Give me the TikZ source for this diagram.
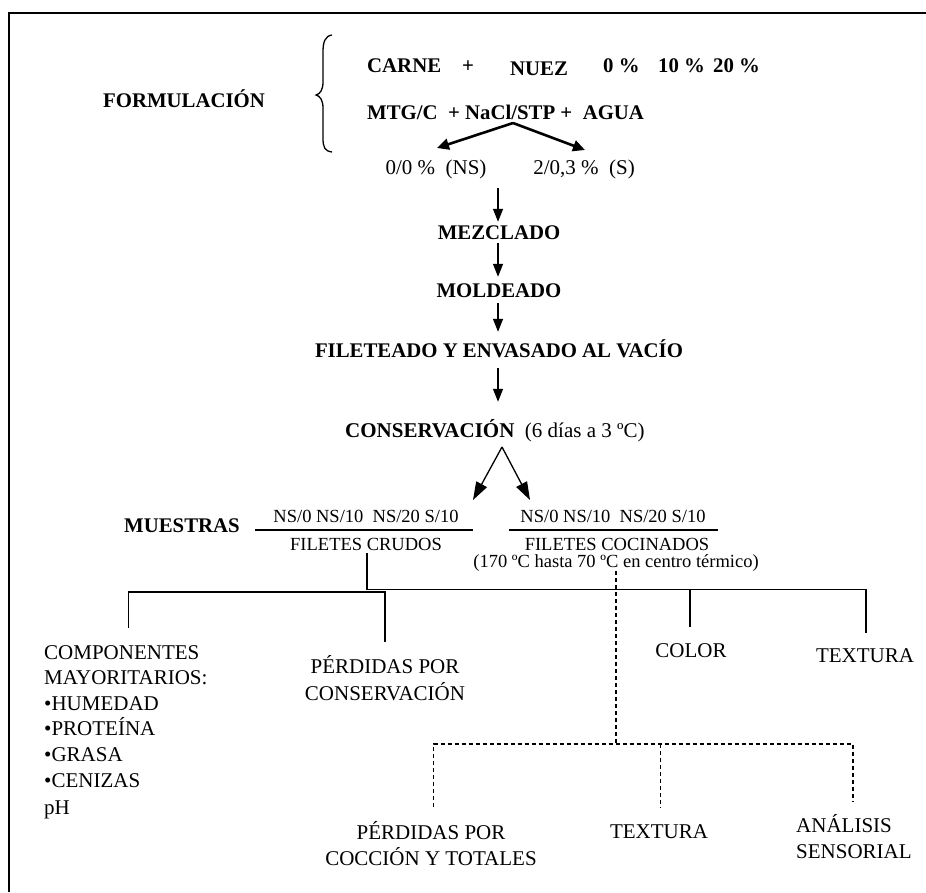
\documentclass[tikz,border=0pt]{standalone}
\usepackage{fontspec}
\setmainfont{Liberation Serif}
\usetikzlibrary{arrows.meta,calc}
\begin{document}
\begin{tikzpicture}[x=1pt,y=-1pt,
  lbl/.style={font=\fontsize{21}{25}\selectfont, inner sep=0pt, anchor=base, text height=14pt, text depth=4pt},
  blbl/.style={lbl, font=\fontsize{20.8}{25}\selectfont\bfseries},
  sml/.style={lbl, font=\fontsize{18.5}{22}\selectfont, text height=12.5pt, text depth=2pt},
  btl/.style={lbl, font=\fontsize{21}{25}\selectfont, text height=15pt, text depth=5pt},
  arr/.style={line width=1.3pt, -{Triangle[length=13pt,width=10pt]}},
  tarr/.style={line width=2.6pt, -{Triangle[length=12pt,width=11pt]}},
  carr/.style={line width=1.3pt, -{Triangle[length=18pt,width=12pt]}},
  ln/.style={line width=1.3pt},
  dln/.style={line width=1.2pt, dash pattern=on 4pt off 3pt},
  frameline/.style={line width=2pt}]
\useasboundingbox (0,0) rectangle (926,892);
\fill[white] (0,0) rectangle (926,892);
% frame
\coordinate (ftl) at (8.5,13);
\coordinate (ftr) at (926,13);
\coordinate (fbl) at (8.5,892);
\draw[frameline] (ftr) -- (ftl) -- (fbl);
% brace
\draw[ln] (332,35) .. controls (325,36) and (323,42) .. (323,52) -- (323,82)
  .. controls (323,90) and (320,94) .. (316,95)
  .. controls (320,96) and (323,100) .. (323,108) -- (323,138)
  .. controls (323,148) and (325,151) .. (332,152);
% formulation
\node[blbl] (form) at (184,107) {FORMULACIÓN};
\node[blbl, anchor=base west] (carne) at (367,72) {CARNE};
\node[blbl] (plus) at (468,72) {+};
\node[blbl, anchor=base west] (nuez) at (510,75) {NUEZ};
\node[blbl, anchor=base west] (p0) at (603,72) {0 \%};
\node[blbl, anchor=base west] (p10) at (658,72) {10 \%};
\node[blbl, anchor=base west] (p20) at (713,72) {20 \%};
\node[blbl, anchor=base west] (mtg) at (367,119) {MTG/C\ \ + NaCl/STP +\ \ AGUA};
\node[lbl] (ns) at (436,174) {0/0 \%\ \ (NS)};
\node[lbl] (s) at (584,174) {2/0,3 \%\ \ (S)};
\coordinate (apex) at (513,123);
\coordinate (tipL) at (437,148);
\coordinate (tipR) at (585,150);
\draw[tarr] (apex) -- (tipL);
\draw[tarr] (apex) -- (tipR);
% main column
\node[blbl] (mez) at (499,239) {MEZCLADO};
\node[blbl] (mol) at (499,297) {MOLDEADO};
\node[blbl] (fil) at (499,357) {FILETEADO Y ENVASADO AL VACÍO};
\node[lbl, anchor=base west] (cons) at (345,437) {\textbf{CONSERVACIÓN}\ \ (6 días a 3 ºC)};
\coordinate (a1) at (498,188);
\draw[arr] (a1) -- ($(a1 |- mez.north)+(0,-3)$);
\draw[arr] ($(a1 |- mez.south)$) -- ($(a1 |- mol.north)+(0,-6)$);
\draw[arr] ($(a1 |- mol.south)+(0,2)$) -- ($(a1 |- fil.north)+(0,-11)$);
\draw[arr] ($(a1 |- fil.south)+(0,7)$) -- ($(a1 |- cons.north)+(0,-21)$);
% conservation split
\coordinate (capex) at (502,447);
\coordinate (ctL) at (473,500);
\coordinate (ctR) at (530,500);
\draw[carr] (capex) -- (ctL);
\draw[carr] (capex) -- (ctR);
% samples
\node[blbl] (mue) at (182,532) {MUESTRAS};
\node[sml] (nsL) at (366,522.5) {NS/0 NS/10\ \ NS/20 S/10};
\node[sml] (nsR) at (613,522.5) {NS/0 NS/10\ \ NS/20 S/10};
\coordinate (lL1) at (255,530);
\coordinate (lL2) at (473,530);
\coordinate (lR1) at (509,530);
\coordinate (lR2) at (718,530);
\draw[ln] (lL1) -- (lL2);
\draw[ln] (lR1) -- (lR2);
\node[sml] (crudos) at (366,550.5) {FILETES CRUDOS};
\node[sml] (cocin) at (617,550) {FILETES COCINADOS};
\node[sml] (temp) at (616,567) {(170 ºC hasta 70 ºC en centro térmico)};
% solid tree
\coordinate (cv) at (367,553);
\coordinate (jc) at (367,589.5);
\coordinate (jR) at (866,589.5);
\coordinate (jCol) at (690,589.5);
\coordinate (jL) at (128.6,592);
\coordinate (jP) at (385,592);
\coordinate (eL) at (128.6,628);
\coordinate (eP) at (385,642);
\coordinate (eCol) at (690,627);
\coordinate (eR) at (866,633);
\draw[ln] (cv) -- (jc) -- (jR) -- (eR);
\draw[ln] (jCol) -- (eCol);
\draw[ln] (eL) -- (jL) -- (jP) -- (eP);
% bottom labels
\node[btl, anchor=base west] (c1) at (44,659) {COMPONENTES};
\node[btl, anchor=base west] (c2) at (44,684.5) {MAYORITARIOS:};
\node[btl, anchor=base west] (c3) at (44,710) {•HUMEDAD};
\node[btl, anchor=base west] (c4) at (44,735.5) {•PROTEÍNA};
\node[btl, anchor=base west] (c5) at (44,761) {•GRASA};
\node[btl, anchor=base west] (c6) at (44,787) {•CENIZAS};
\node[btl, anchor=base west] (c7) at (44,814) {pH};
\node[btl] (pc1) at (385,673) {PÉRDIDAS POR};
\node[btl] (pc2) at (385,700) {CONSERVACIÓN};
\node[btl] (color) at (691,657) {COLOR};
\node[btl] (tex1) at (865,662) {TEXTURA};
% dashed tree
\coordinate (dtop) at (616,571);
\coordinate (dj) at (616,744);
\coordinate (dL) at (433.5,744);
\coordinate (dM) at (660.6,744);
\coordinate (dR) at (853,744);
\coordinate (dLe) at (433.5,807);
\coordinate (dMe) at (660.6,808);
\coordinate (dRe) at (853,802);
\draw[dln] (dtop) -- (dj);
\draw[dln] (dLe) -- (dL) -- (dR) -- (dRe);
\draw[dln] (dM) -- (dMe);
\node[btl] (pt1) at (431,839) {PÉRDIDAS POR};
\node[btl] (pt2) at (431,865) {COCCIÓN Y TOTALES};
\node[btl] (tex2) at (659,838) {TEXTURA};
\node[btl, anchor=base west] (an1) at (796,832) {ANÁLISIS};
\node[btl, anchor=base west] (an2) at (796,858) {SENSORIAL};
\end{tikzpicture}
\end{document}
